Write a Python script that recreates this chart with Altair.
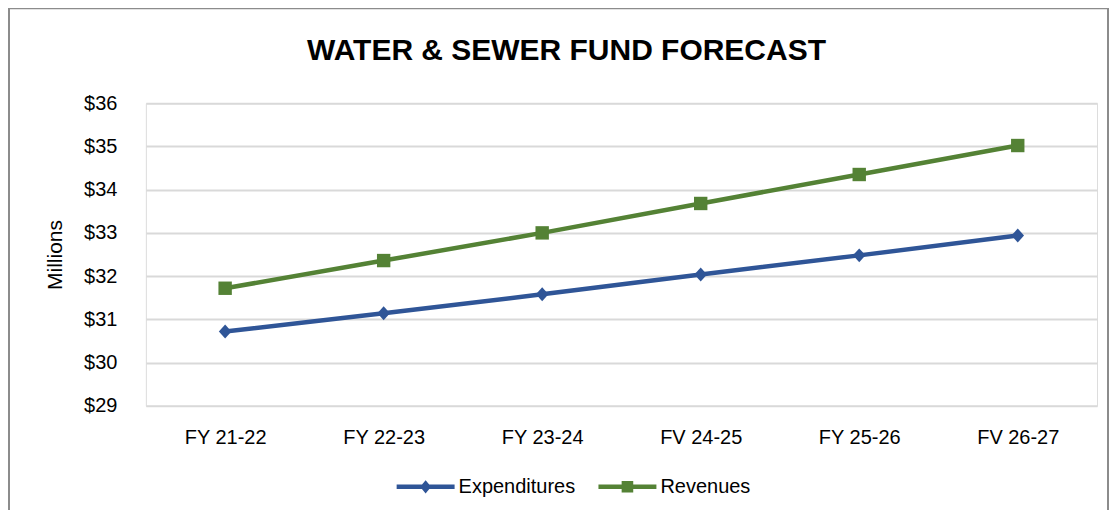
import altair as alt
import pandas as pd

categories = ["FY 21-22", "FY 22-23", "FY 23-24", "FV 24-25", "FY 25-26", "FV 26-27"]
expenditures = [30.72, 31.14, 31.58, 32.04, 32.48, 32.94]
revenues = [31.72, 32.36, 33.00, 33.68, 34.35, 35.02]
series_names = ["Expenditures", "Revenues"]
series_colors = ["#2F5597", "#548235"]
y_ticks = [29, 30, 31, 32, 33, 34, 35, 36]
title_text = "WATER & SEWER FUND FORECAST"

rows = []
for s, vals in zip(series_names, [expenditures, revenues]):
    for c, v in zip(categories, vals):
        rows.append({"year": c, "series": s, "value": v})
df = pd.DataFrame(rows)

FONT = "Liberation Sans, Arial, sans-serif"
W, H = 952, 303

diamond_path = "M0,-1L0.9,0L0,1L-0.9,0Z"
leg_exp = "M-1,-0.08H1V0.08H-1Z M0,-0.23L0.19,0L0,0.23L-0.19,0Z"
leg_rev = "M-1,-0.08H1V0.08H-1Z M-0.2,-0.2H0.2V0.2H-0.2Z"

x = alt.X("year:N", sort=categories,
          scale=alt.Scale(type="point", padding=0.5),
          axis=alt.Axis(title=None, labelAngle=0, ticks=False, domain=False, grid=False,
                        labelPadding=22, labelFontSize=20, labelColor="#000000",
                        labelFont=FONT))
y = alt.Y("value:Q", scale=alt.Scale(domain=[29, 36], nice=False, zero=False),
          axis=alt.Axis(title="Millions", values=y_ticks, format="$,.0f", ticks=False,
                        domain=False, gridColor="#D9D9D9", gridWidth=2,
                        labelPadding=29, labelFontSize=20, labelColor="#000000",
                        labelFont=FONT, titleFont=FONT, titleFontSize=21,
                        titleFontWeight="normal", titleColor="#000000", titlePadding=18))

layers = []
shapes = [(diamond_path, 196), ("square", 180)]
for name, col, (shp, sz) in zip(series_names, series_colors, shapes):
    base = alt.Chart(df).transform_filter(alt.datum.series == name)
    layers.append(base.mark_line(strokeWidth=4.5, color=col).encode(x=x, y=y))
    layers.append(base.mark_point(filled=True, opacity=1, shape=shp, size=sz, color=col).encode(x=x, y=y))

leg = alt.Legend(orient="none", legendX=251, legendY=355, direction="horizontal", title=None,
                 labelFont=FONT, labelFontSize=20, labelColor="#000000", symbolSize=3364,
                 labelOffset=4, columnPadding=23, symbolStrokeWidth=0, padding=0)
legend_layer = alt.Chart(df).mark_point(filled=True, opacity=1).encode(
    x=alt.value(0), y=alt.value(-5000),
    color=alt.Color("series:N", scale=alt.Scale(domain=series_names, range=series_colors), legend=leg),
    shape=alt.Shape("series:N", scale=alt.Scale(domain=series_names, range=[leg_exp, leg_rev]), legend=leg),
)

frame = alt.Chart(pd.DataFrame({"k": [0]})).mark_rect(
    fillOpacity=0, stroke="#8C8C8C", strokeWidth=2).encode(
    x=alt.value(-137), x2=alt.value(W + 11), y=alt.value(-95), y2=alt.value(H + 200))

title = alt.Chart(pd.DataFrame({"t": [title_text]})).mark_text(
    font=FONT, fontSize=30, fontWeight="bold", color="#000000", align="center",
    baseline="alphabetic").encode(text="t:N", x=alt.value(421), y=alt.value(-43))

chart = alt.layer(frame, title, legend_layer, *layers).properties(
    width=W, height=H,
    autosize=alt.AutoSizeParams(type="none"),
    padding={"left": 138, "top": 95, "right": 12, "bottom": 104},
).configure_view(stroke=None).configure(background="#FFFFFF")

chart.save("out.html", embed_options={"renderer": "svg", "actions": False})
